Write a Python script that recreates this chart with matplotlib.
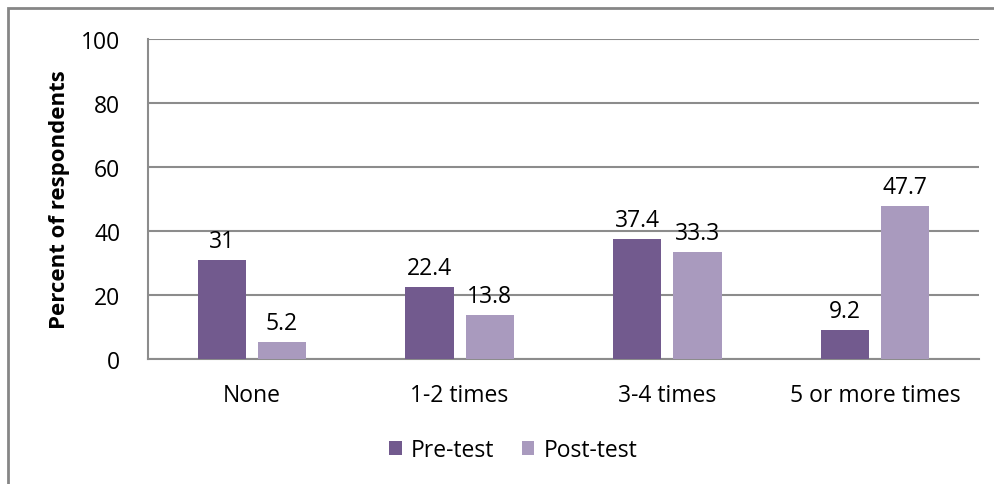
import numpy as np
import matplotlib.pyplot as plt
from matplotlib.patches import Rectangle

plt.rcParams['font.family'] = ['Open Sans', 'DejaVu Sans']

categories = ['None', '1-2 times', '3-4 times', '5 or more times']
pre_test = [31, 22.4, 37.4, 9.2]
post_test = [5.2, 13.8, 33.3, 47.7]
pre_labels = ['31', '22.4', '37.4', '9.2']
post_labels = ['5.2', '13.8', '33.3', '47.7']
yticks = [0, 20, 40, 60, 80, 100]

pre_color = '#725a8e'
post_color = '#a99abe'
grid_color = '#8c8c8c'
fs = 16.5

W, H = 995, 485
fig = plt.figure(figsize=(W / 100, H / 100), dpi=100)
# plot area in pixels: x 148..979, y 40..360
ax = fig.add_axes([148 / W, 1 - 360 / H, (979 - 148) / W, 320 / H])

# outer chart border (runs off right/bottom edge)
fig.patches.append(Rectangle((8 / W, -0.1), 1.2, 1 - 9 / H + 0.1,
                             transform=fig.transFigure, fill=False,
                             edgecolor='#868686', linewidth=2))

x = np.arange(len(categories))
bw = 0.232
off = 0.145
ax.bar(x - off, pre_test, bw, color=pre_color, label='Pre-test', zorder=3)
ax.bar(x + off, post_test, bw, color=post_color, label='Post-test', zorder=3)

for xi, v, s in zip(x, pre_test, pre_labels):
    ax.annotate(s, (xi - off, v), xytext=(0, 5), textcoords='offset points',
                ha='center', va='bottom', fontsize=fs)
for xi, v, s in zip(x, post_test, post_labels):
    ax.annotate(s, (xi + off, v), xytext=(0, 5), textcoords='offset points',
                ha='center', va='bottom', fontsize=fs)

ax.set_xlim(-0.5, len(categories) - 0.5)
ax.set_ylim(0, 100)
ax.set_yticks(yticks)
ax.set_xticks(x)
ax.set_xticklabels(categories, fontsize=fs)
ax.tick_params(axis='y', labelsize=fs, length=0, pad=20)
ax.tick_params(axis='x', length=0, pad=17)
ax.yaxis.grid(True, color=grid_color, linewidth=1.5, zorder=0)
for side in ['top', 'right']:
    ax.spines[side].set_visible(False)
ax.spines['left'].set_color(grid_color)
ax.spines['bottom'].set_color(grid_color)
ax.spines['left'].set_linewidth(1.5)
ax.spines['bottom'].set_linewidth(1.5)

ax.set_ylabel('Percent of respondents', fontsize=16, fontweight='bold', labelpad=8)

ax.legend(loc='center', bbox_to_anchor=(513 / W, 1 - 451 / H), bbox_transform=fig.transFigure,
          ncol=2, frameon=False, fontsize=fs, handlelength=0.55, handleheight=0.55,
          handletextpad=0.4, columnspacing=1.2)

fig.savefig('out.png', dpi=100)
